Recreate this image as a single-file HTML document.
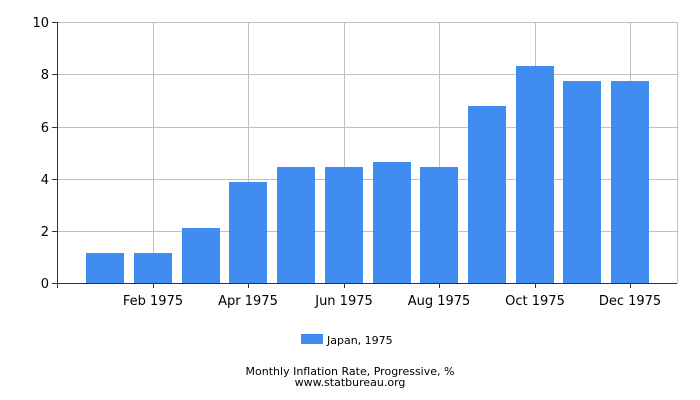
<!DOCTYPE html>
<html><head><meta charset="utf-8"><style>
body{margin:0;background:#fff;}
svg{display:block;font-family:"DejaVu Sans","Liberation Sans",sans-serif;}
</style></head><body>
<svg width="700" height="400" viewBox="0 0 700 400" xmlns="http://www.w3.org/2000/svg">
<rect width="700" height="400" fill="#fff"/>
<g stroke="#c0c0c0" stroke-width="1" shape-rendering="crispEdges">
<line x1="57" y1="22.5" x2="677" y2="22.5"/>
<line x1="57" y1="74.5" x2="677" y2="74.5"/>
<line x1="57" y1="127.5" x2="677" y2="127.5"/>
<line x1="57" y1="179.5" x2="677" y2="179.5"/>
<line x1="57" y1="231.5" x2="677" y2="231.5"/>
<line x1="153.5" y1="22" x2="153.5" y2="283"/>
<line x1="248.5" y1="22" x2="248.5" y2="283"/>
<line x1="344.5" y1="22" x2="344.5" y2="283"/>
<line x1="439.5" y1="22" x2="439.5" y2="283"/>
<line x1="535.5" y1="22" x2="535.5" y2="283"/>
<line x1="630.5" y1="22" x2="630.5" y2="283"/>
<line x1="677.5" y1="22" x2="677.5" y2="283"/>
</g>
<g fill="#418cf0">
<rect x="86" y="253" width="38" height="30"/>
<rect x="134" y="253" width="38" height="30"/>
<rect x="182" y="228" width="38" height="55"/>
<rect x="229" y="182" width="38" height="101"/>
<rect x="277" y="167" width="38" height="116"/>
<rect x="325" y="167" width="38" height="116"/>
<rect x="373" y="162" width="38" height="121"/>
<rect x="420" y="167" width="38" height="116"/>
<rect x="468" y="106" width="38" height="177"/>
<rect x="516" y="66" width="38" height="217"/>
<rect x="563" y="81" width="38" height="202"/>
<rect x="611" y="81" width="38" height="202"/>
</g>
<g stroke="#333" stroke-width="1" shape-rendering="crispEdges">
<line x1="57.5" y1="22" x2="57.5" y2="288"/>
<line x1="52" y1="283.5" x2="677" y2="283.5"/>
<line x1="52" y1="22.5" x2="57" y2="22.5"/>
<line x1="52" y1="74.5" x2="57" y2="74.5"/>
<line x1="52" y1="127.5" x2="57" y2="127.5"/>
<line x1="52" y1="179.5" x2="57" y2="179.5"/>
<line x1="52" y1="231.5" x2="57" y2="231.5"/>
<line x1="153.5" y1="283" x2="153.5" y2="288"/>
<line x1="248.5" y1="283" x2="248.5" y2="288"/>
<line x1="344.5" y1="283" x2="344.5" y2="288"/>
<line x1="439.5" y1="283" x2="439.5" y2="288"/>
<line x1="535.5" y1="283" x2="535.5" y2="288"/>
<line x1="630.5" y1="283" x2="630.5" y2="288"/>
</g>
<g font-size="13" fill="#000" text-anchor="end">
<text x="49" y="27">10</text>
<text x="49" y="79">8</text>
<text x="49" y="132">6</text>
<text x="49" y="184">4</text>
<text x="49" y="236">2</text>
<text x="49" y="288">0</text>
</g>
<g font-size="13" fill="#000" text-anchor="middle">
<text x="153" y="305">Feb 1975</text>
<text x="248" y="305">Apr 1975</text>
<text x="344" y="305">Jun 1975</text>
<text x="439" y="305">Aug 1975</text>
<text x="535" y="305">Oct 1975</text>
<text x="630" y="305">Dec 1975</text>
</g>
<rect x="301" y="334" width="22" height="10" fill="#418cf0"/>
<text x="327" y="344" font-size="11">Japan, 1975</text>
<text x="350" y="375" font-size="11" text-anchor="middle">Monthly Inflation Rate, Progressive, %</text>
<text x="350" y="386" font-size="11" text-anchor="middle">www.statbureau.org</text>
</svg>
</body></html>
